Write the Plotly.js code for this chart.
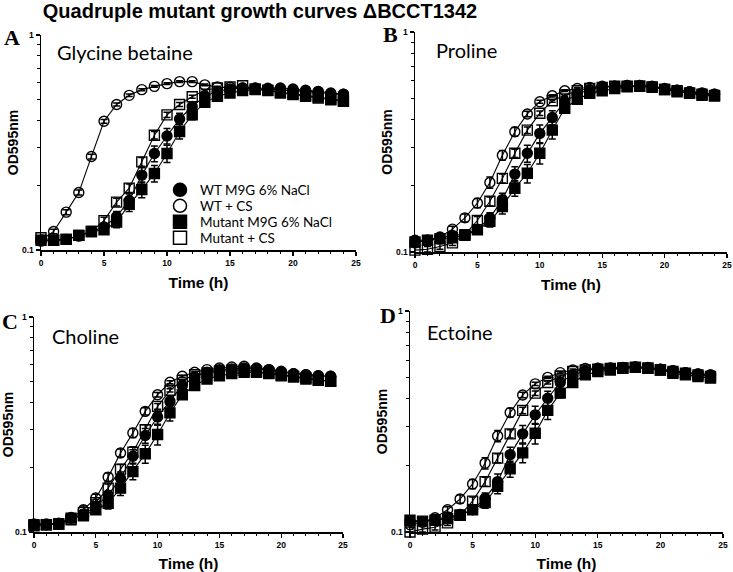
<!DOCTYPE html>
<html>
<head>
<meta charset="utf-8">
<script src="https://cdn.plot.ly/plotly-3.0.1.min.js"></script>
<style>html,body{margin:0;padding:0;background:#fff;}#chart{width:733px;height:572px;}</style>
</head>
<body>
<div id="chart"></div>
<script>
// ---- data ----
const hours = [0,1,2,3,4,5,6,7,8,9,10,11,12,13,14,15,16,17,18,19,20,21,22,23,24];
const seriesNames = ["WT M9G 6% NaCl", "WT + CS", "Mutant M9G 6% NaCl", "Mutant + CS"];
const panelNames = ["Glycine betaine", "Proline", "Choline", "Ectoine"];
const panelLetters = ["A", "B", "C", "D"];
const xTicks = [0,5,10,15,20,25];
const yTickVals = [0.1, 1];
const yTickText = ["0.1", "1"];
const yMinorVals = [0.2,0.3,0.4,0.5,0.6,0.7,0.8,0.9];

// A: Glycine betaine
const gbWT     = [0.110,0.111,0.112,0.116,0.122,0.128,0.143,0.170,0.223,0.281,0.339,0.407,0.465,0.519,0.547,0.561,0.567,0.565,0.565,0.567,0.561,0.553,0.547,0.537,0.531];
const gbWTCS   = [0.111,0.122,0.150,0.185,0.272,0.397,0.475,0.524,0.557,0.577,0.594,0.607,0.607,0.586,0.573,0.571,0.567,0.567,0.561,0.557,0.553,0.547,0.541,0.533,0.530];
const gbMut    = [0.111,0.111,0.112,0.117,0.122,0.124,0.135,0.163,0.191,0.227,0.281,0.356,0.425,0.486,0.519,0.537,0.551,0.557,0.553,0.541,0.533,0.524,0.515,0.504,0.496];
const gbMutCS  = [0.114,0.111,0.112,0.117,0.122,0.137,0.167,0.194,0.257,0.342,0.425,0.475,0.516,0.553,0.567,0.573,0.581,0.561,0.551,0.537,0.528,0.519,0.509,0.500,0.491];
const gbWTErr    = [0.003,0.003,0.003,0.003,0.004,0.005,0.008,0.012,0.018,0.024,0.028,0.025,0.020,0.014,0.010,0.008,0.006,0.006,0.005,0.005,0.005,0.005,0.005,0.005,0.005];
const gbWTCSErr  = [0.003,0.003,0.004,0.005,0.007,0.008,0.008,0.007,0.006,0.006,0.005,0.005,0.005,0.005,0.005,0.005,0.005,0.005,0.005,0.005,0.005,0.005,0.005,0.005,0.005];
const gbMutErr   = [0.003,0.003,0.003,0.003,0.004,0.005,0.008,0.012,0.016,0.020,0.026,0.028,0.022,0.015,0.010,0.008,0.006,0.006,0.005,0.005,0.005,0.005,0.005,0.005,0.005];
const gbMutCSErr = [0.003,0.003,0.003,0.003,0.004,0.005,0.007,0.009,0.012,0.014,0.012,0.010,0.008,0.006,0.005,0.005,0.005,0.005,0.005,0.005,0.005,0.005,0.005,0.005,0.005];

// B: Proline
const proWT    = [0.113,0.113,0.116,0.119,0.120,0.127,0.143,0.173,0.226,0.281,0.346,0.409,0.482,0.522,0.548,0.563,0.567,0.571,0.571,0.567,0.554,0.544,0.535,0.526,0.522];
const proWTCS  = [0.110,0.113,0.117,0.127,0.143,0.167,0.207,0.275,0.352,0.424,0.482,0.513,0.541,0.554,0.560,0.567,0.567,0.571,0.571,0.563,0.552,0.544,0.535,0.529,0.522];
const proMut   = [0.111,0.113,0.115,0.116,0.119,0.126,0.138,0.161,0.195,0.228,0.281,0.358,0.450,0.494,0.526,0.541,0.554,0.563,0.567,0.563,0.548,0.535,0.526,0.516,0.511];
const proMutCS = [0.102,0.103,0.106,0.110,0.120,0.139,0.170,0.216,0.281,0.358,0.427,0.487,0.516,0.541,0.554,0.560,0.567,0.567,0.567,0.560,0.548,0.541,0.529,0.522,0.515];
const proWTErr    = [0.003,0.003,0.003,0.003,0.004,0.005,0.008,0.012,0.018,0.025,0.032,0.030,0.020,0.012,0.008,0.006,0.005,0.005,0.005,0.005,0.005,0.005,0.005,0.005,0.005];
const proWTCSErr  = [0.003,0.003,0.003,0.004,0.006,0.008,0.012,0.014,0.016,0.012,0.008,0.006,0.005,0.005,0.005,0.005,0.005,0.005,0.005,0.005,0.005,0.005,0.005,0.005,0.005];
const proMutErr   = [0.003,0.003,0.003,0.003,0.004,0.005,0.008,0.012,0.016,0.022,0.030,0.032,0.020,0.012,0.008,0.006,0.005,0.005,0.005,0.005,0.005,0.005,0.005,0.005,0.005];
const proMutCSErr = [0.003,0.003,0.003,0.003,0.004,0.006,0.008,0.010,0.012,0.012,0.010,0.008,0.006,0.005,0.005,0.005,0.005,0.005,0.005,0.005,0.005,0.005,0.005,0.005,0.005];

// C: Choline
const choWT    = [0.108,0.108,0.109,0.117,0.120,0.132,0.148,0.178,0.225,0.281,0.343,0.405,0.480,0.526,0.553,0.569,0.573,0.579,0.573,0.569,0.553,0.545,0.539,0.533,0.530];
const choWTCS  = [0.109,0.109,0.110,0.116,0.127,0.144,0.180,0.233,0.289,0.364,0.435,0.497,0.530,0.553,0.569,0.579,0.585,0.590,0.579,0.569,0.559,0.545,0.539,0.533,0.530];
const choMut   = [0.107,0.108,0.109,0.116,0.119,0.127,0.136,0.160,0.191,0.231,0.284,0.358,0.435,0.480,0.515,0.533,0.545,0.553,0.553,0.545,0.533,0.526,0.515,0.507,0.502];
const choMutCS = [0.108,0.108,0.109,0.114,0.123,0.137,0.160,0.196,0.235,0.299,0.384,0.456,0.507,0.539,0.549,0.559,0.565,0.565,0.559,0.549,0.539,0.530,0.520,0.511,0.502];
const choWTErr    = [0.003,0.003,0.003,0.003,0.004,0.005,0.008,0.012,0.016,0.022,0.026,0.024,0.018,0.012,0.008,0.006,0.005,0.005,0.005,0.005,0.005,0.005,0.005,0.005,0.005];
const choWTCSErr  = [0.003,0.003,0.003,0.004,0.005,0.006,0.008,0.010,0.014,0.014,0.010,0.008,0.006,0.005,0.005,0.005,0.005,0.005,0.005,0.005,0.005,0.005,0.005,0.005,0.005];
const choMutErr   = [0.003,0.003,0.003,0.003,0.004,0.005,0.008,0.012,0.016,0.022,0.030,0.030,0.020,0.012,0.008,0.006,0.005,0.005,0.005,0.005,0.005,0.005,0.005,0.005,0.005];
const choMutCSErr = [0.003,0.003,0.003,0.003,0.004,0.005,0.007,0.010,0.014,0.016,0.012,0.008,0.006,0.005,0.005,0.005,0.005,0.005,0.005,0.005,0.005,0.005,0.005,0.005,0.005];

// D: Ectoine
const ectWT    = [0.112,0.111,0.114,0.117,0.120,0.126,0.142,0.169,0.224,0.278,0.339,0.403,0.475,0.514,0.537,0.549,0.551,0.554,0.556,0.551,0.545,0.537,0.526,0.519,0.514];
const ectWTCS  = [0.108,0.111,0.116,0.126,0.141,0.165,0.205,0.272,0.347,0.417,0.468,0.501,0.526,0.541,0.549,0.551,0.553,0.556,0.560,0.556,0.545,0.537,0.526,0.519,0.514];
const ectMut   = [0.113,0.112,0.113,0.115,0.119,0.126,0.136,0.161,0.193,0.228,0.280,0.355,0.425,0.475,0.514,0.532,0.541,0.551,0.556,0.551,0.541,0.523,0.514,0.505,0.497];
const ectMutCS = [0.100,0.103,0.105,0.110,0.119,0.138,0.169,0.216,0.278,0.355,0.425,0.475,0.508,0.532,0.541,0.545,0.549,0.553,0.556,0.551,0.541,0.532,0.523,0.514,0.505];
const ectWTErr    = [0.003,0.003,0.003,0.003,0.004,0.005,0.008,0.014,0.018,0.025,0.032,0.030,0.020,0.012,0.008,0.006,0.005,0.005,0.005,0.005,0.005,0.005,0.005,0.005,0.005];
const ectWTCSErr  = [0.003,0.003,0.003,0.004,0.006,0.008,0.012,0.016,0.016,0.012,0.008,0.006,0.005,0.005,0.005,0.005,0.005,0.005,0.005,0.005,0.005,0.005,0.005,0.005,0.005];
const ectMutErr   = [0.003,0.003,0.003,0.003,0.004,0.005,0.008,0.012,0.016,0.022,0.030,0.032,0.020,0.012,0.008,0.006,0.005,0.005,0.005,0.005,0.005,0.005,0.005,0.005,0.005];
const ectMutCSErr = [0.003,0.003,0.003,0.003,0.004,0.006,0.008,0.010,0.012,0.012,0.010,0.008,0.006,0.005,0.005,0.005,0.005,0.005,0.005,0.005,0.005,0.005,0.005,0.005,0.005];

const panels = [
  {vals:[gbWT, gbWTCS, gbMut, gbMutCS],     errs:[gbWTErr, gbWTCSErr, gbMutErr, gbMutCSErr]},
  {vals:[proWT, proWTCS, proMut, proMutCS], errs:[proWTErr, proWTCSErr, proMutErr, proMutCSErr]},
  {vals:[choWT, choWTCS, choMut, choMutCS], errs:[choWTErr, choWTCSErr, choMutErr, choMutCSErr]},
  {vals:[ectWT, ectWTCS, ectMut, ectMutCS], errs:[ectWTErr, ectWTCSErr, ectMutErr, ectMutCSErr]}
];

// ---- styling ----
const W = 733, H = 572;
const SANS = "Liberation Sans, Arial, sans-serif";
const symbols = ["circle", "circle-open", "square", "square-open"];
// pixel boxes of each plot area: [left, right, top(y=1), bottom(y=0.1)]
const boxes = [
  [41, 356, 35, 250],
  [415, 727, 32, 252],
  [34, 343, 317, 532],
  [410, 723, 311, 532]
];
const labelPos = [[55, 52], [434, 50], [50, 336], [425, 332]];
const letterPos = [[12, 37], [390, 34], [10, 321], [388, 315]];
const legendRows = [190, 206, 222, 238];
const drawOrder = [1, 3, 0, 2];

const traces = [];
panels.forEach((p, pi) => {
  const sfx = pi === 0 ? "" : String(pi + 1);
  drawOrder.forEach(si => {
    traces.push({
      type: "scatter",
      mode: "lines+markers",
      x: hours,
      y: p.vals[si],
      name: seriesNames[si],
      xaxis: "x" + sfx,
      yaxis: "y" + sfx,
      cliponaxis: false,
      line: {color: "#000", width: 1.1},
      marker: {symbol: symbols[si], size: 10, color: "#000", line: {color: "#000", width: 1.4}},
      error_y: {type: "data", array: p.errs[si], visible: true, color: "#000", thickness: 1.5, width: 3.5},
      showlegend: false
    });
  });
});
// legend-only entries (marker symbols only), one legend box per row
seriesNames.forEach((nm, si) => {
  traces.push({
    type: "scatter", mode: "markers",
    x: [null], y: [null],
    name: nm,
    xaxis: "x", yaxis: "y",
    marker: {symbol: symbols[si], size: 13, color: "#000", line: {color: "#000", width: 1.5}},
    showlegend: true,
    legend: si === 0 ? "legend" : "legend" + (si + 1)
  });
});

const layout = {
  width: W, height: H,
  margin: {l: 0, r: 0, t: 0, b: 0},
  paper_bgcolor: "#fff",
  plot_bgcolor: "rgba(0,0,0,0)",
  font: {family: SANS, color: "#000"},
  title: {
    text: "Quadruple mutant growth curves \u0394BCCT1342",
    xref: "paper", yref: "paper",
    x: 260 / W, xanchor: "center",
    y: 1 - 11 / H, yanchor: "middle",
    font: {family: SANS, size: 20, weight: "bold", color: "#000"}
  },
  annotations: [],
  showlegend: true
};

boxes.forEach((b, i) => {
  const sfx = i === 0 ? "" : String(i + 1);
  layout["xaxis" + sfx] = {
    domain: [b[0] / W, b[1] / W],
    anchor: "y" + sfx,
    range: [0, 25],
    tickmode: "array", tickvals: xTicks,
    ticks: "outside", ticklen: 4, tickwidth: 1.2, tickcolor: "#000",
    minor: {dtick: 1, ticks: "outside", ticklen: 2, tickwidth: 1, tickcolor: "#000"},
    showline: true, linewidth: 1.5, linecolor: "#000",
    showgrid: false, zeroline: false,
    tickfont: {family: SANS, size: 8.5, weight: "bold", color: "#000"},
    title: {text: "Time (h)", standoff: 10, font: {family: SANS, size: 15.5, weight: "bold", color: "#000"}},
    automargin: false
  };
  layout["yaxis" + sfx] = {
    domain: [1 - b[3] / H, 1 - b[2] / H],
    anchor: "x" + sfx,
    type: "log",
    range: [-1, 0],
    tickmode: "array", tickvals: yTickVals, ticktext: yTickText,
    ticks: "outside", ticklen: 4, tickwidth: 1.2, tickcolor: "#000",
    minor: {tickmode: "array", tickvals: yMinorVals, ticks: "outside", ticklen: 2.5, tickwidth: 1, tickcolor: "#000"},
    showline: true, linewidth: 1.5, linecolor: "#000",
    showgrid: false, zeroline: false,
    tickfont: {family: SANS, size: 8.5, weight: "bold", color: "#000"},
    title: {text: "OD595nm", standoff: 0, font: {family: SANS, size: 14, weight: "bold", color: "#000"}},
    automargin: false
  };
  layout.annotations.push({
    text: panelNames[i], xref: "paper", yref: "paper",
    x: labelPos[i][0] / W, y: 1 - labelPos[i][1] / H,
    xanchor: "left", yanchor: "middle", showarrow: false,
    font: {family: "Lato, Open Sans, sans-serif", size: 20, color: "#000"}
  });
  layout.annotations.push({
    text: panelLetters[i], xref: "paper", yref: "paper",
    x: letterPos[i][0] / W, y: 1 - letterPos[i][1] / H,
    xanchor: "center", yanchor: "middle", showarrow: false,
    font: {family: "Liberation Serif, Times New Roman, serif", size: 22, weight: "bold", color: "#000"}
  });
});

legendRows.forEach((ry, i) => {
  const key = i === 0 ? "legend" : "legend" + (i + 1);
  layout[key] = {
    x: 160 / W, xanchor: "left",
    y: 1 - ry / H, yanchor: "middle",
    bgcolor: "rgba(0,0,0,0)", borderwidth: 0,
    itemsizing: "trace",
    font: {family: "Lato, Open Sans, sans-serif", size: 13.5, color: "#000"}
  };
});

Plotly.newPlot("chart", traces, layout, {displayModeBar: false, staticPlot: true});
</script>
</body>
</html>
